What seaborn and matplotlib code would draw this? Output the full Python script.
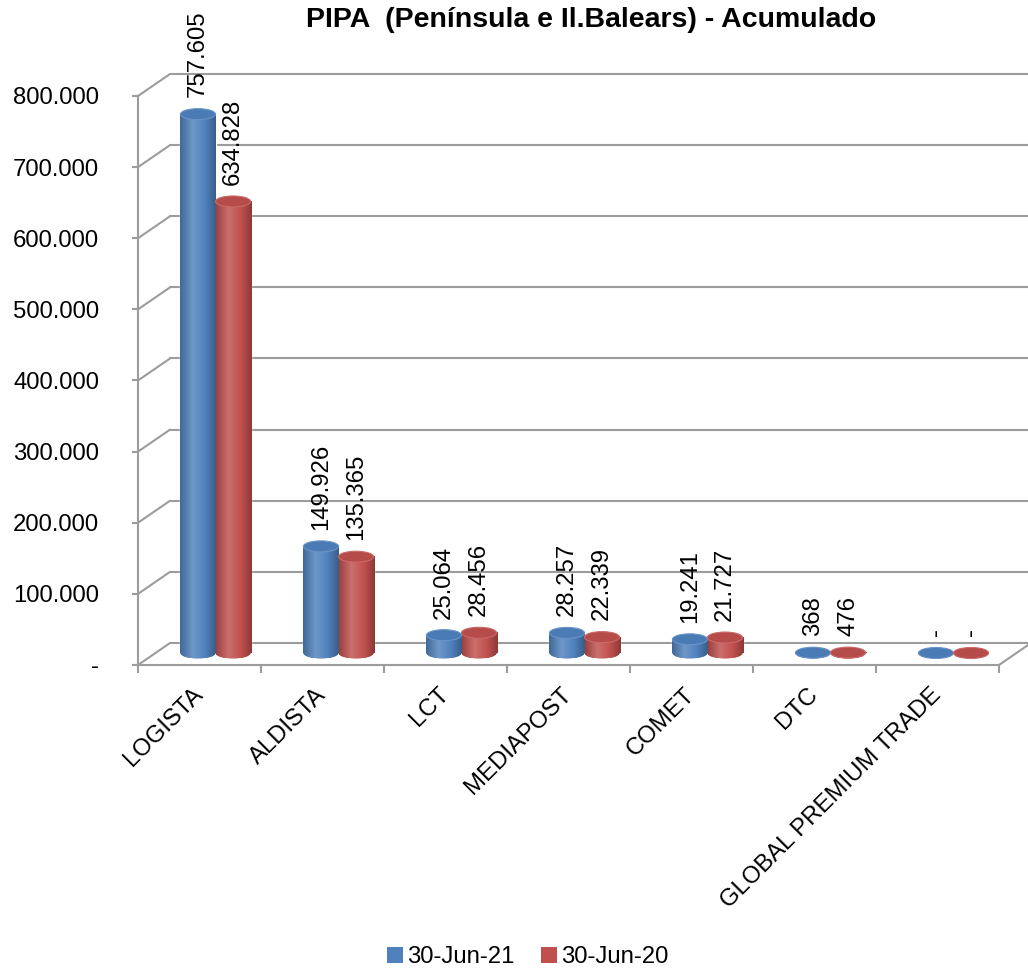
import numpy as np
import pandas as pd
import matplotlib
matplotlib.use("Agg")
import matplotlib.pyplot as plt
import seaborn as sns
from matplotlib.transforms import ScaledTranslation
from matplotlib.patches import Ellipse, ConnectionPatch, Patch
from matplotlib.colors import LinearSegmentedColormap, to_rgb

# ---------------- data ----------------
categories = ["LOGISTA", "ALDISTA", "LCT", "MEDIAPOST", "COMET", "DTC",
              "GLOBAL PREMIUM TRADE"]
series_names = ["30-Jun-21", "30-Jun-20"]
values_2021 = [757605, 149926, 25064, 28257, 19241, 368, 0]
values_2020 = [634828, 135365, 28456, 22339, 21727, 476, 0]
y_ticks = [0, 100000, 200000, 300000, 400000, 500000, 600000, 700000, 800000]
y_tick_labels = ["-", "100.000", "200.000", "300.000", "400.000", "500.000",
                 "600.000", "700.000", "800.000"]
title = "PIPA  (Península e Il.Balears) - Acumulado"

colors = ["#4F81BD", "#C0504D"]
grid_color = "#9c9c9c"

sns.set_style("white")
plt.rcParams["font.family"] = ["Liberation Sans", "DejaVu Sans"]
plt.rcParams["text.color"] = "black"
plt.rcParams["xtick.labelcolor"] = "black"
plt.rcParams["ytick.labelcolor"] = "black"
FS = 17.2

W, H = 1028, 971
fig = plt.figure(figsize=(W / 100, H / 100), dpi=100)
ax = fig.add_axes([138 / W, (H - 665) / H, (999 - 138) / W, (665 - 96) / H])

df = pd.DataFrame({
    "Empresa": categories * 2,
    "Valor": values_2021 + values_2020,
    "Serie": [series_names[0]] * len(categories) + [series_names[1]] * len(categories),
})
sns.barplot(data=df, x="Empresa", y="Valor", hue="Serie", palette=colors,
            width=0.57, saturation=1, errorbar=None, ax=ax, legend=False)

ax.set_xlim(-0.5, len(categories) - 0.5)
ax.set_ylim(0, 800000)
ax.set_xlabel("")
ax.set_ylabel("")

mid = ax.transData + ScaledTranslation(16 / 100, 12 / 100, fig.dpi_scale_trans)
back = ax.transData + ScaledTranslation(32 / 100, 22 / 100, fig.dpi_scale_trans)

# back wall gridlines and side diagonals
for yv in y_ticks:
    ax.plot([-0.5, len(categories) + 1], [yv, yv], transform=back,
            color=grid_color, lw=1.5, clip_on=False, zorder=0.5)
    cp = ConnectionPatch(xyA=(-0.5, yv), coordsA=ax.transData,
                         xyB=(-0.5, yv), coordsB=back,
                         color=grid_color, lw=1.5, clip_on=False, zorder=0.6)
    ax.add_artist(cp)
cp = ConnectionPatch(xyA=(len(categories) - 0.5, 0), coordsA=ax.transData,
                     xyB=(len(categories) - 0.5, 0), coordsB=back,
                     color=grid_color, lw=1.5, clip_on=False, zorder=0.6)
ax.add_artist(cp)

# spines / ticks
for s in ["top", "right"]:
    ax.spines[s].set_visible(False)
for s in ["left", "bottom"]:
    ax.spines[s].set_color(grid_color)
    ax.spines[s].set_linewidth(1.5)

ax.set_yticks(y_ticks, y_tick_labels)
ax.tick_params(axis="y", length=4, width=1.5, color=grid_color, pad=24,
               labelsize=FS, left=True, labelcolor="black")
ax.set_xticks(range(len(categories)))
ax.set_xticklabels(categories, rotation=45, ha="right", va="center",
                   rotation_mode="anchor", fontsize=FS, color="black")
ax.set_xticks(np.arange(-0.5, len(categories), 1.0), minor=True)
ax.tick_params(axis="x", which="major", length=0, pad=19)
ax.tick_params(axis="x", which="minor", length=6, width=1.5, color=grid_color,
               bottom=True)

# cylinder rendering
ppd = (ax.transData.transform((0, 100000))[1] - ax.transData.transform((0, 0))[1]) / 100000
eh = 11 / ppd
grad = np.linspace(0, 1, 256).reshape(1, -1)


def shade(c, f):
    r = np.array(to_rgb(c))
    if f < 1:
        return tuple(r * f)
    return tuple(r + (1 - r) * (f - 1))


for ci, cont in enumerate(ax.containers):
    base = colors[ci]
    cmap = LinearSegmentedColormap.from_list(
        "cyl%d" % ci,
        [(0, shade(base, 0.8)), (0.35, shade(base, 1.18)), (0.7, base),
         (1, shade(base, 0.72))])
    vals = values_2021 if ci == 0 else values_2020
    for bar, v in zip(cont, vals):
        bar.set_transform(mid)
        bar.set_clip_on(False)
        x0, w, h = bar.get_x(), bar.get_width(), bar.get_height()
        xc = x0 + w / 2
        bottom = Ellipse((xc, 0), w, eh, transform=mid, facecolor=base,
                         edgecolor="none", zorder=2.9, clip_on=False)
        ax.add_patch(bottom)
        im2 = ax.imshow(grad, extent=(x0, x0 + w, -eh / 2, eh / 2), transform=mid,
                        aspect="auto", cmap=cmap, zorder=3, interpolation="bilinear")
        im2.set_clip_path(bottom)
        if h > 0:
            ax.imshow(grad, extent=(x0, x0 + w, 0, h), transform=mid, aspect="auto",
                      cmap=cmap, zorder=3, interpolation="bilinear", clip_on=False)
        top = Ellipse((xc, h), w, eh, transform=mid, facecolor=shade(base, 0.95),
                      edgecolor=shade(base, 1.15), lw=0.8, zorder=4, clip_on=False)
        ax.add_patch(top)
        label = "-" if v == 0 else f"{v:,}".replace(",", ".")
        ax.annotate(label, xy=(xc, h), xycoords=mid, xytext=(0, 12),
                    textcoords="offset points", rotation=90, ha="center",
                    va="bottom", fontsize=FS, annotation_clip=False)

ax.set_xlim(-0.5, len(categories) - 0.5)
ax.set_ylim(0, 800000)

fig.text(591 / W, 1 - 20 / H, title, ha="center", va="center", fontsize=20.5,
         fontweight="bold")

handles = [Patch(facecolor=c, edgecolor="none") for c in colors]
fig.legend(handles, series_names, loc="center", bbox_to_anchor=(528 / W, 1 - 957 / H),
           ncol=2, frameon=False, fontsize=FS, handlelength=0.65, handleheight=0.65,
           handletextpad=0.2, columnspacing=1.1)

fig.savefig("out.png", dpi=100)
